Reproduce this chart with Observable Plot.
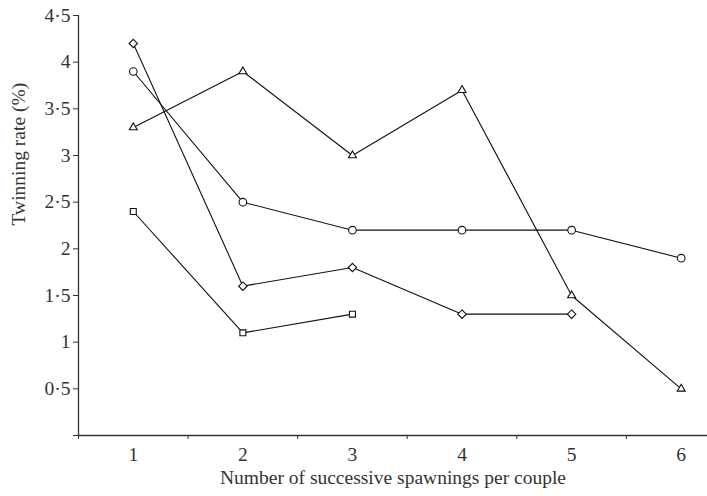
<!DOCTYPE html>
<html>
<head>
<meta charset="utf-8">
<script src="https://cdn.jsdelivr.net/npm/d3@7"></script>
<script src="https://cdn.jsdelivr.net/npm/@observablehq/plot@0.6"></script>
<style>
  html, body { margin: 0; padding: 0; background: #fff; }
  svg { font-family: "Liberation Serif", "DejaVu Serif", serif; }
</style>
</head>
<body>
<div id="chart"></div>
<script>
const spawnings = [1, 2, 3, 4, 5, 6];
const diamondSeries = [4.2, 1.6, 1.8, 1.3, 1.3];
const circleSeries = [3.9, 2.5, 2.2, 2.2, 2.2, 1.9];
const triangleSeries = [3.3, 3.9, 3.0, 3.7, 1.5, 0.5];
const squareSeries = [2.4, 1.1, 1.3];
const yTicks = [0.5, 1, 1.5, 2, 2.5, 3, 3.5, 4, 4.5];
const xLabel = "Number of successive spawnings per couple";
const yLabel = "Twinning rate (%)";

const seriesDefs = [
  {name: "diamond", values: diamondSeries, symbol: "diamond2"},
  {name: "circle", values: circleSeries, symbol: "circle"},
  {name: "triangle", values: triangleSeries, symbol: "triangle2"},
  {name: "square", values: squareSeries, symbol: "square2"}
];
const rows = seriesDefs.flatMap(s => s.values.map((v, i) => ({series: s.name, symbol: s.symbol, x: spawnings[i], y: v})));
const boundaries = spawnings.map(d => d - 0.5);
const fmt = d => String(d).replace(".", "·");

const ink = "#333";
const fs = 19.5;
const chart = Plot.plot({
  width: 707,
  height: 496,
  marginLeft: 78,
  marginRight: 0,
  marginTop: 15,
  marginBottom: 61,
  style: {fontFamily: "Liberation Serif, serif", fontSize: fs + "px", color: ink, background: "#fff", overflow: "visible"},
  x: {type: "linear", domain: [0.5, 6.24]},
  y: {domain: [0, 4.5]},
  symbol: {type: "identity"},
  marks: [
    Plot.ruleY([0], {stroke: "#333", strokeWidth: 1.3}),
    Plot.ruleX([0.5], {y1: 0, y2: 4.5, stroke: "#333", strokeWidth: 1.3}),
    Plot.axisY({ticks: yTicks.concat([0]), tickFormat: d => d === 0 ? "" : fmt(d), tickSize: 5, tickPadding: 3, label: null, stroke: "#333", fill: ink, fontSize: fs}),
    Plot.axisX({ticks: boundaries, tickFormat: () => "", tickSize: 4, label: null, stroke: "#333"}),
    Plot.axisX({ticks: spawnings, tickFormat: d => String(d), tickSize: 0, tickPadding: 12, label: null, fill: ink, fontSize: fs}),
    Plot.lineY(rows, {x: "x", y: "y", z: "series", stroke: "#111", strokeWidth: 1.1}),
    Plot.dot(rows, {x: "x", y: "y", symbol: "symbol", r: 3.8, stroke: "#111", strokeWidth: 1.1, fill: "#fff"}),
    Plot.text([xLabel], {frameAnchor: "bottom", dy: 48, fontSize: fs, fill: ink}),
    Plot.text([yLabel], {frameAnchor: "left", dx: -60, rotate: -90, fontSize: fs, fill: ink})
  ]
});
document.getElementById("chart").appendChild(chart);
</script>
</body>
</html>
